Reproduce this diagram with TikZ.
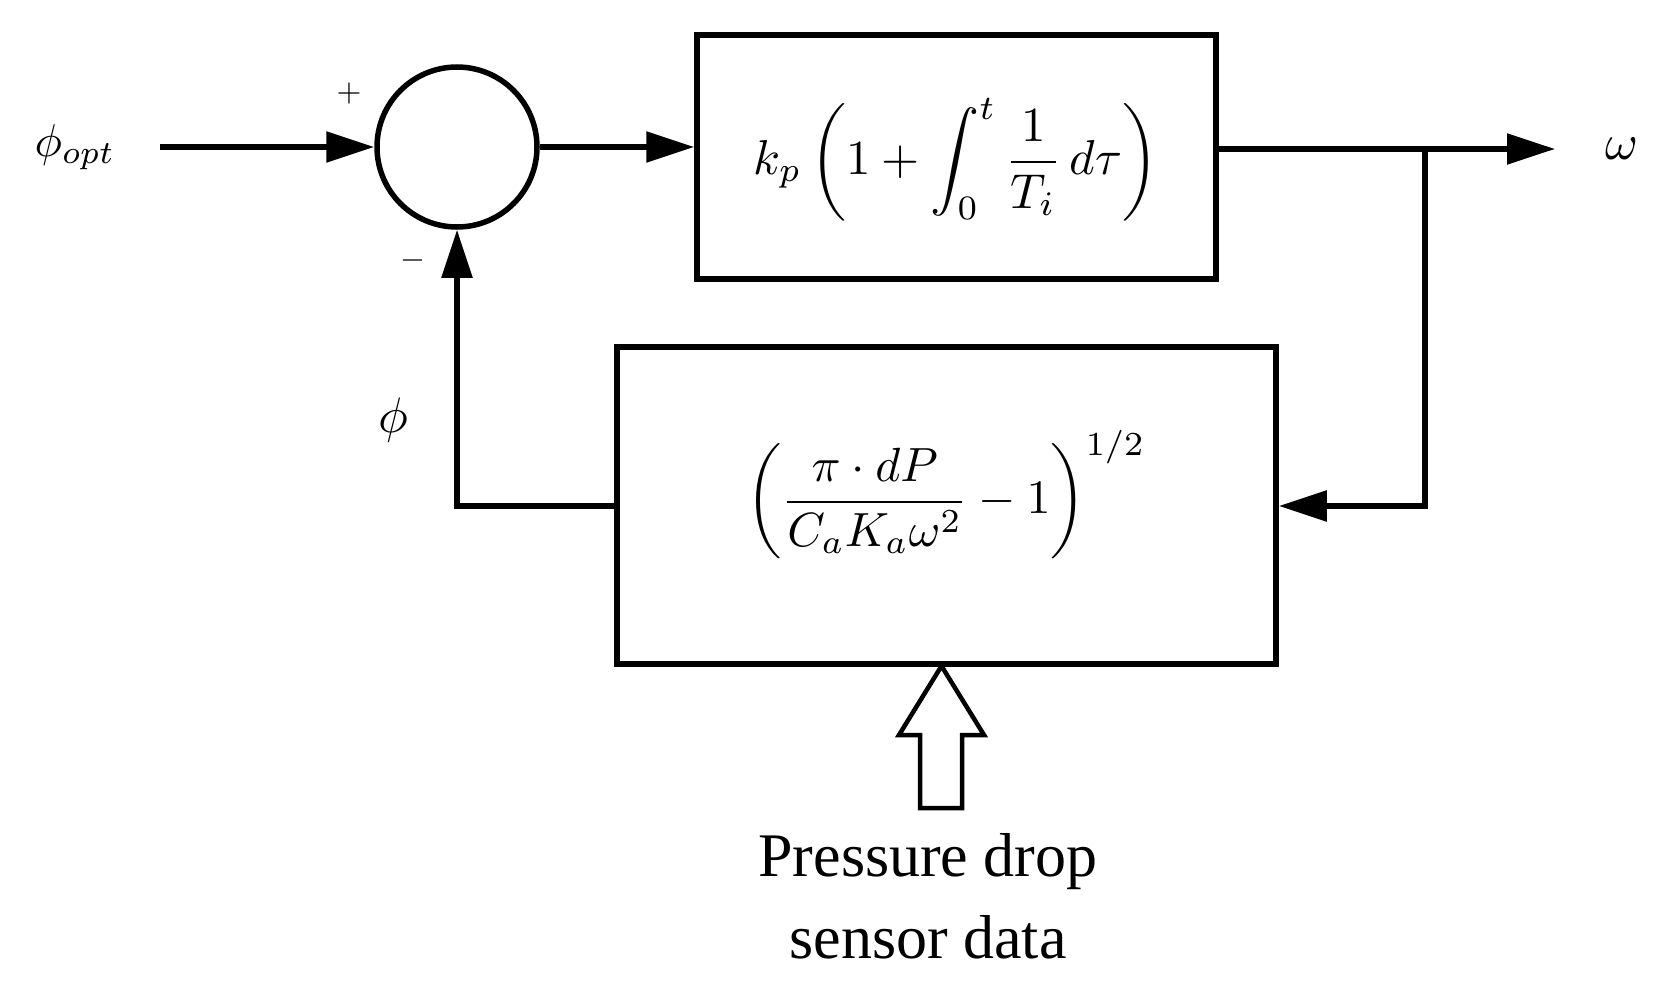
\documentclass[tikz,border=0pt]{standalone}
\usepackage{fontspec}
\setmainfont{Liberation Serif}
\usetikzlibrary{arrows.meta}
\begin{document}
\begin{tikzpicture}[x=1pt,y=-1pt,line width=5.5pt,
  arr/.style={-{Triangle[length=48pt,width=30pt]}},
  blk/.style={draw,line width=5.5pt,inner sep=0pt},
  sm/.style={scale=#1,transform shape}]
\useasboundingbox (0,0) rectangle (1659,987);
\node[draw,circle,minimum size=160pt,line width=5.5pt] (sum) at (457,147) {};
\node[blk,minimum width=519pt,minimum height=244pt] (pi) at (956.5,157) {};
\node[sm=4.9] at (956,160) {$k_{p}\left(1+\displaystyle\int_0^t \frac{1}{T_i}\,d\tau\right)$};
\node[blk,minimum width=659pt,minimum height=317pt] (fb) at (946.5,505.5) {};
\node[sm=4.8] at (946,495) {$\displaystyle\left(\frac{\pi\cdot dP}{C_aK_a\omega^2}-1\right)^{1/2}$};
\node[sm=4.6] (in) at (75,147) {$\phi_{opt}$};
\coordinate (ins) at (160,147);
\coordinate (br) at (1425,149);
\coordinate (oe) at (1555,149);
\node[sm=5] (out) at (1622,149) {$\omega$};
\draw[arr] (ins) -- (sum.west);
\draw[arr] (sum.east) -- (sum.east -| pi.west);
\draw[arr] (pi.east |- br) -- (oe);
\draw[arr] (br) |- (fb.east |- 0,506);
\draw[arr] (fb.west |- 0,506) -| (sum.south);
\node[sm=3.2] at (349,94) {$+$};
\node[sm=3.2] at (413,260) {$-$};
\node[sm=5] at (393,420) {$\phi$};
\draw[line width=4.5pt,fill=white] (920,808) -- (920,735) -- (899,735) -- (941.5,666) -- (984,735) -- (962,735) -- (962,808) -- cycle;
\node[font=\fontsize{62}{82}\selectfont,align=center] (txt) at (928,896) {Pressure drop\\sensor data};
\end{tikzpicture}
\end{document}
